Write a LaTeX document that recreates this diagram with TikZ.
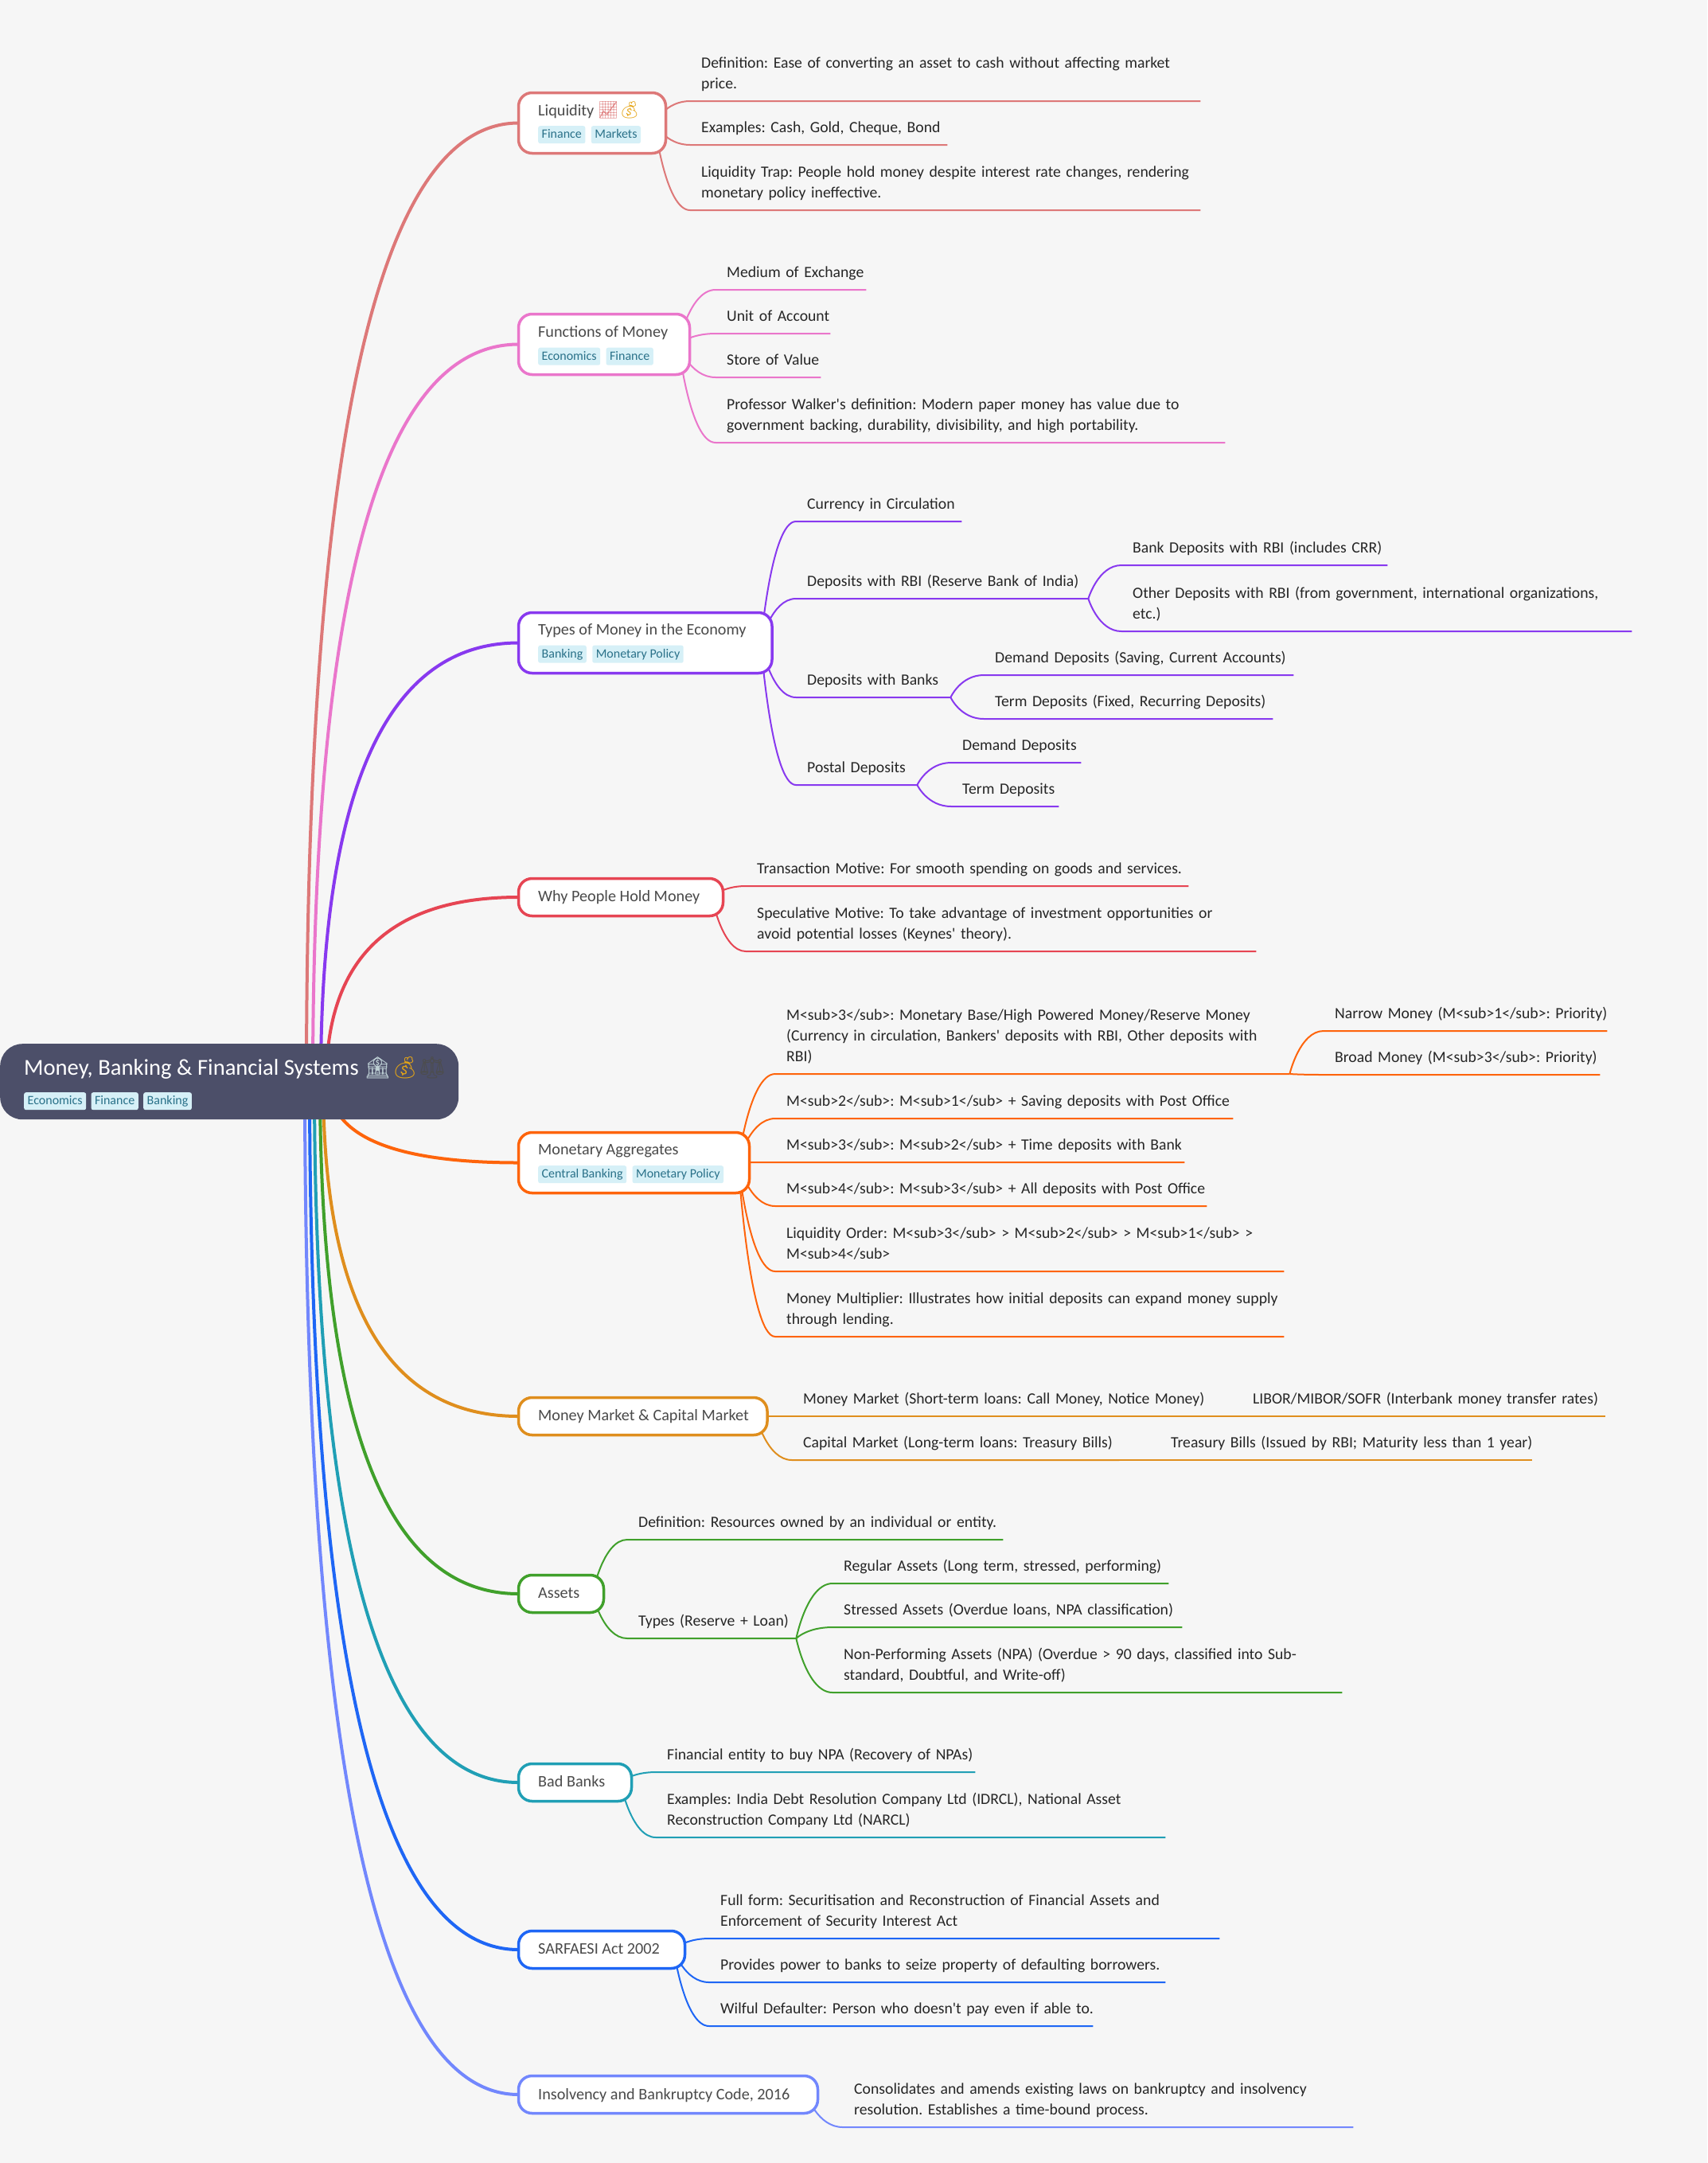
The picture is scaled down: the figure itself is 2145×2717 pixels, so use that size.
\documentclass[tikz,border=0pt]{standalone}
\usepackage{fontspec}
\setmainfont{Carlito}
\newfontfamily\emojifont{Noto Emoji}
\usepackage[HTML]{xcolor}
\usetikzlibrary{positioning, calc, backgrounds}

\definecolor{pagebg}{HTML}{F6F6F6}
\definecolor{rootbg}{HTML}{4C4F69}
\definecolor{tagbg}{HTML}{D6F0F7}
\definecolor{tagfg}{HTML}{2A7189}
\definecolor{leaffg}{HTML}{262626}
\definecolor{topicfg}{HTML}{4A4A4A}
\definecolor{liqcol}{HTML}{DD7878}
\definecolor{funcol}{HTML}{EA76CB}
\definecolor{typcol}{HTML}{8839EF}
\definecolor{whycol}{HTML}{E64553}
\definecolor{moncol}{HTML}{FE640B}
\definecolor{mktcol}{HTML}{DF8E1D}
\definecolor{astcol}{HTML}{40A02B}
\definecolor{badcol}{HTML}{209FB5}
\definecolor{sarcol}{HTML}{1E66F5}
\definecolor{inscol}{HTML}{7287FD}

\tikzset{
  leaf/.style={anchor=south west, inner xsep=0pt, inner ysep=7.5pt, align=left, text=leaffg,
    font=\fontsize{19.7}{26}\selectfont\frenchspacing,
    execute at begin node={\hyphenpenalty=10000 \rightskip=0pt plus 2em minus 40pt\relax},
    execute at end node={\strut}},
  topic/.style={draw, fill=white, rounded corners=17pt, line width=3.5pt, inner sep=0pt, outer sep=0pt, anchor=north west},
  title/.style={anchor=base west, inner sep=0pt, text=topicfg, font=\fontsize{20.2}{26}\selectfont\frenchspacing},
  tag/.style={fill=tagbg, text=tagfg, rounded corners=2.5pt, inner xsep=4.5pt, inner ysep=0pt,
    text height=12pt, text depth=3pt, minimum height=22pt, font=\fontsize{16}{18}\selectfont},
  mainlink/.style={line width=4pt, to path={let \p1=(\tikztostart), \p2=(\tikztotarget) in
    .. controls (\x1,{\y1+0.667*(\y2-\y1)}) and ({\x2+0.667*(\x1-\x2)},\y2) .. (\tikztotarget)}},
  sublink/.style={line width=2pt, to path={let \p1=(\tikztostart), \p2=(\tikztotarget) in
    .. controls (\p1) and ({\x1+0.3*(\x2-\x1)},\y2) .. (\tikztotarget)}},
}

\begin{document}
\begin{tikzpicture}[x=1pt, y=-1pt]
\useasboundingbox (0,0) rectangle (2145,2717);

% root
\node[fill=rootbg, rounded corners=28pt, inner sep=0pt, minimum width=576pt, minimum height=95pt, anchor=north west] (root) at (0,1311) {};
\node[anchor=base west, inner sep=0pt, text=white, font=\fontsize{28.6}{32}\selectfont\frenchspacing] (roott) at (30,1350.5)
  {Money, Banking \& Financial Systems {\emojifont\fontsize{27}{32}\selectfont\textcolor{tagbg!70!gray}{🏦}\textcolor{mktcol!80!yellow}{💰}\textcolor{black!70}{⚖}}};
\node[tag, anchor=north west] (roota) at (30,1372) {Economics};
\node[tag, right=6pt of roota] (rootb) {Finance};
\node[tag, right=6pt of rootb] (rootc) {Banking};

% topics
\node[topic, draw=liqcol, minimum width=185pt, minimum height=76pt] (liq) at (651.5,116.5) {};
\node[title] (liqt) at (676,145) {Liquidity {\emojifont\fontsize{21}{26}\selectfont\textcolor{liqcol}{📈}\textcolor{mktcol!80!yellow}{💰}}};
\node[tag, anchor=north west] (liqa) at (676,158) {Finance};
\node[tag, right=7pt of liqa] (liqb) {Markets};

\node[topic, draw=funcol, minimum width=215pt, minimum height=76pt] (fun) at (651.5,394.5) {};
\node[title] (funt) at (676,423) {Functions of Money};
\node[tag, anchor=north west] (funa) at (676,436.5) {Economics};
\node[tag, right=7pt of funa] (funb) {Finance};

\node[topic, draw=typcol, minimum width=318.5pt, minimum height=76pt] (typ) at (651.5,769.5) {};
\node[title] (typt) at (676,797) {Types of Money in the Economy};
\node[tag, anchor=north west] (typa) at (676,810.5) {Banking};
\node[tag, right=7pt of typa] (typb) {Monetary Policy};

\node[topic, draw=whycol, minimum width=257pt, minimum height=47pt] (why) at (651.5,1103.5) {};
\node[title] (whyt) at (676,1132.5) {Why People Hold Money};

\node[topic, draw=moncol, minimum width=290pt, minimum height=76pt] (mon) at (651.5,1422.5) {};
\node[title] (mont) at (676,1450) {Monetary Aggregates};
\node[tag, anchor=north west] (mona) at (676,1464) {Central Banking};
\node[tag, right=7pt of mona] (monb) {Monetary Policy};

\node[topic, draw=mktcol, minimum width=312.5pt, minimum height=47pt] (mkt) at (651.5,1755.5) {};
\node[title] (mktt) at (676,1784.5) {Money Market \& Capital Market};

\node[topic, draw=astcol, minimum width=107pt, minimum height=47pt] (ast) at (651.5,1978.5) {};
\node[title] (astt) at (676,2007.5) {Assets};

\node[topic, draw=badcol, minimum width=142pt, minimum height=47pt] (bad) at (651.5,2215.5) {};
\node[title] (badt) at (676,2244) {Bad Banks};

\node[topic, draw=sarcol, minimum width=209pt, minimum height=47pt] (sar) at (651.5,2425.5) {};
\node[title] (sart) at (676,2454) {SARFAESI Act 2002};

\node[topic, draw=inscol, minimum width=376pt, minimum height=47pt] (ins) at (651.5,2607.5) {};
\node[title] (inst) at (676,2637) {Insolvency and Bankruptcy Code, 2016};

% leaves
\node[leaf, text width=627pt] (liq1) at (881,127) {Definition: Ease of converting an asset to cash without affecting market\\price.};
\node[leaf, text width=309pt] (liq2) at (881,182) {Examples: Cash, Gold, Cheque, Bond};
\node[leaf, text width=627pt] (liq3) at (881,264) {Liquidity Trap: People hold money despite interest rate changes, rendering\\monetary policy ineffective.};

\node[leaf, text width=175pt] (fun1) at (913,364) {Medium of Exchange};
\node[leaf, text width=130pt] (fun2) at (913,419) {Unit of Account};
\node[leaf, text width=118pt] (fun3) at (913,474) {Store of Value};
\node[leaf, text width=626pt] (fun4) at (913,556) {Professor Walker\textquotesingle s definition: Modern paper money has value due to\\government backing, durability, divisibility, and high portability.};

\node[leaf, text width=194pt] (typ1) at (1014,655) {Currency in Circulation};
\node[leaf, text width=353pt] (typ2) at (1014,752) {Deposits with RBI (Reserve Bank of India)};
\node[leaf, text width=320pt] (typ21) at (1423,710) {Bank Deposits with RBI (includes CRR)};
\node[leaf, text width=627pt] (typ22) at (1423,793) {Other Deposits with RBI (from government, international organizations,\\etc.)};
\node[leaf, text width=180pt] (typ3) at (1014,876) {Deposits with Banks};
\node[leaf, text width=375pt] (typ31) at (1250,848) {Demand Deposits (Saving, Current Accounts)};
\node[leaf, text width=349pt] (typ32) at (1250,903) {Term Deposits (Fixed, Recurring Deposits)};
\node[leaf, text width=138pt] (typ4) at (1014,986) {Postal Deposits};
\node[leaf, text width=149pt] (typ41) at (1209,958) {Demand Deposits};
\node[leaf, text width=121pt] (typ42) at (1209,1013) {Term Deposits};

\node[leaf, text width=542pt] (why1) at (951,1113) {Transaction Motive: For smooth spending on goods and services.};
\node[leaf, text width=627pt] (why2) at (951,1195) {Speculative Motive: To take advantage of investment opportunities or\\avoid potential losses (Keynes\textquotesingle{} theory).};

\node[leaf, text width=632pt] (mon1) at (988,1349) {M<sub>3</sub>: Monetary Base/High Powered Money/Reserve Money\\(Currency in circulation, Bankers\textquotesingle{} deposits with RBI, Other deposits with\\RBI)};
\node[leaf, text width=342pt] (mon11) at (1677,1295) {Narrow Money (M<sub>1</sub>: Priority)};
\node[leaf, text width=333pt] (mon12) at (1677,1350) {Broad Money (M<sub>3</sub>: Priority)};
\node[leaf, text width=561pt] (mon2) at (988,1405) {M<sub>2</sub>: M<sub>1</sub> + Saving deposits with Post Office};
\node[leaf, text width=500pt] (mon3) at (988,1460) {M<sub>3</sub>: M<sub>2</sub> + Time deposits with Bank};
\node[leaf, text width=528pt] (mon4) at (988,1515) {M<sub>4</sub>: M<sub>3</sub> + All deposits with Post Office};
\node[leaf, text width=625pt] (mon5) at (988,1597) {Liquidity Order: M<sub>3</sub> > M<sub>2</sub> > M<sub>1</sub> >\\M<sub>4</sub>};
\node[leaf, text width=625pt] (mon6) at (988,1679) {Money Multiplier: Illustrates how initial deposits can expand money supply\\through lending.};

\node[leaf, text width=501pt] (mkt1) at (1009,1779) {Money Market (Short-term loans: Call Money, Notice Money)};
\node[leaf, text width=443pt] (mkt11) at (1574,1779) {LIBOR/MIBOR/SOFR (Interbank money transfer rates)};
\node[leaf, text width=397pt] (mkt2) at (1009,1834) {Capital Market (Long-term loans: Treasury Bills)};
\node[leaf, text width=454pt] (mkt21) at (1471,1834) {Treasury Bills (Issued by RBI; Maturity less than 1 year)};

\node[leaf, text width=458pt] (ast1) at (802,1934) {Definition: Resources owned by an individual or entity.};
\node[leaf, text width=198pt] (ast2) at (802,2058) {Types (Reserve + Loan)};
\node[leaf, text width=408pt] (ast21) at (1060,1989) {Regular Assets (Long term, stressed, performing)};
\node[leaf, text width=425pt] (ast22) at (1060,2044) {Stressed Assets (Overdue loans, NPA classification)};
\node[leaf, text width=626pt] (ast23) at (1060,2126) {Non-Performing Assets (NPA) (Overdue > 90 days, classified into Sub-\\standard, Doubtful, and Write-off)};

\node[leaf, text width=387pt] (bad1) at (838,2226) {Financial entity to buy NPA (Recovery of NPAs)};
\node[leaf, text width=626pt] (bad2) at (838,2308) {Examples: India Debt Resolution Company Ltd (IDRCL), National Asset\\Reconstruction Company Ltd (NARCL)};

\node[leaf, text width=627pt] (sar1) at (905,2435) {Full form: Securitisation and Reconstruction of Financial Assets and\\Enforcement of Security Interest Act};
\node[leaf, text width=559pt] (sar2) at (905,2490) {Provides power to banks to seize property of defaulting borrowers.};
\node[leaf, text width=468pt] (sar3) at (905,2545) {Wilful Defaulter: Person who doesn\textquotesingle t pay even if able to.};

\node[leaf, text width=627pt] (ins1) at (1073,2672) {Consolidates and amends existing laws on bankruptcy and insolvency\\resolution. Establishes a time-bound process.};

% link origins
\coordinate (o1) at (385,1358);
\coordinate (o2) at (393,1358);
\coordinate (o3) at (403,1358);
\coordinate (o4) at (410,1358);
\coordinate (o5) at (413,1358);
\coordinate (o6) at (406,1358);
\coordinate (o7) at (402,1358);
\coordinate (o8) at (395,1358);
\coordinate (o9) at (389,1358);
\coordinate (o10) at (383,1358);
\coordinate (liqo) at ([xshift=-14pt]liq.east);
\coordinate (funo) at ([xshift=-14pt]fun.east);
\coordinate (typo) at ([xshift=-14pt]typ.east);
\coordinate (whyo) at ([xshift=-14pt]why.east);
\coordinate (mono) at ([xshift=-14pt]mon.east);
\coordinate (mkto) at ([xshift=-14pt]mkt.east);
\coordinate (asto) at ([xshift=-14pt]ast.east);
\coordinate (bado) at ([xshift=-14pt]bad.east);
\coordinate (saro) at ([xshift=-14pt]sar.east);
\coordinate (inso) at ([xshift=-14pt]ins.east);

\begin{scope}[on background layer]
\fill[pagebg] (0,0) rectangle (2145,2717);

\draw[liqcol, mainlink] (o1) to (liq.west);
\draw[funcol, mainlink] (o2) to (fun.west);
\draw[typcol, mainlink] (o3) to (typ.west);
\draw[whycol, mainlink] (o4) to (why.west);
\draw[moncol, mainlink] (o5) to (mon.west);
\draw[mktcol, mainlink] (o6) to (mkt.west);
\draw[astcol, mainlink] (o7) to (ast.west);
\draw[badcol, mainlink] (o8) to (bad.west);
\draw[sarcol, mainlink] (o9) to (sar.west);
\draw[inscol, mainlink] (o10) to (ins.west);

\draw[liqcol, sublink] (liqo) to ([xshift=-14pt]liq1.south west) -- (liq1.south east);
\draw[liqcol, sublink] (liqo) to ([xshift=-14pt]liq2.south west) -- (liq2.south east);
\draw[liqcol, sublink] (liqo) to ([xshift=-14pt]liq3.south west) -- (liq3.south east);

\draw[funcol, sublink] (funo) to ([xshift=-14pt]fun1.south west) -- (fun1.south east);
\draw[funcol, sublink] (funo) to ([xshift=-14pt]fun2.south west) -- (fun2.south east);
\draw[funcol, sublink] (funo) to ([xshift=-14pt]fun3.south west) -- (fun3.south east);
\draw[funcol, sublink] (funo) to ([xshift=-14pt]fun4.south west) -- (fun4.south east);

\draw[typcol, sublink] (typo) to ([xshift=-14pt]typ1.south west) -- (typ1.south east);
\draw[typcol, sublink] (typo) to ([xshift=-14pt]typ2.south west) -- (typ2.south east);
\draw[typcol, sublink] (typo) to ([xshift=-14pt]typ3.south west) -- (typ3.south east);
\draw[typcol, sublink] (typo) to ([xshift=-14pt]typ4.south west) -- (typ4.south east);
\draw[typcol, sublink] (typ2.south east) to ([xshift=-14pt]typ21.south west) -- (typ21.south east);
\draw[typcol, sublink] (typ2.south east) to ([xshift=-14pt]typ22.south west) -- (typ22.south east);
\draw[typcol, sublink] (typ3.south east) to ([xshift=-14pt]typ31.south west) -- (typ31.south east);
\draw[typcol, sublink] (typ3.south east) to ([xshift=-14pt]typ32.south west) -- (typ32.south east);
\draw[typcol, sublink] (typ4.south east) to ([xshift=-14pt]typ41.south west) -- (typ41.south east);
\draw[typcol, sublink] (typ4.south east) to ([xshift=-14pt]typ42.south west) -- (typ42.south east);

\draw[whycol, sublink] (whyo) to ([xshift=-14pt]why1.south west) -- (why1.south east);
\draw[whycol, sublink] (whyo) to ([xshift=-14pt]why2.south west) -- (why2.south east);

\draw[moncol, sublink] (mono) to ([xshift=-14pt]mon1.south west) -- (mon1.south east);
\draw[moncol, sublink] (mono) to ([xshift=-14pt]mon2.south west) -- (mon2.south east);
\draw[moncol, sublink] (mono) to ([xshift=-14pt]mon3.south west) -- (mon3.south east);
\draw[moncol, sublink] (mono) to ([xshift=-14pt]mon4.south west) -- (mon4.south east);
\draw[moncol, sublink] (mono) to ([xshift=-14pt]mon5.south west) -- (mon5.south east);
\draw[moncol, sublink] (mono) to ([xshift=-14pt]mon6.south west) -- (mon6.south east);
\draw[moncol, sublink] (mon1.south east) to ([xshift=-14pt]mon11.south west) -- (mon11.south east);
\draw[moncol, sublink] (mon1.south east) to ([xshift=-14pt]mon12.south west) -- (mon12.south east);

\draw[mktcol, sublink] (mkto) to ([xshift=-14pt]mkt1.south west) -- (mkt1.south east);
\draw[mktcol, sublink] (mkto) to ([xshift=-14pt]mkt2.south west) -- (mkt2.south east);
\draw[mktcol, sublink] (mkt1.south east) to ([xshift=-14pt]mkt11.south west) -- (mkt11.south east);
\draw[mktcol, sublink] (mkt2.south east) to ([xshift=-14pt]mkt21.south west) -- (mkt21.south east);

\draw[astcol, sublink] (asto) to ([xshift=-14pt]ast1.south west) -- (ast1.south east);
\draw[astcol, sublink] (asto) to ([xshift=-14pt]ast2.south west) -- (ast2.south east);
\draw[astcol, sublink] (ast2.south east) to ([xshift=-14pt]ast21.south west) -- (ast21.south east);
\draw[astcol, sublink] (ast2.south east) to ([xshift=-14pt]ast22.south west) -- (ast22.south east);
\draw[astcol, sublink] (ast2.south east) to ([xshift=-14pt]ast23.south west) -- (ast23.south east);

\draw[badcol, sublink] (bado) to ([xshift=-14pt]bad1.south west) -- (bad1.south east);
\draw[badcol, sublink] (bado) to ([xshift=-14pt]bad2.south west) -- (bad2.south east);

\draw[sarcol, sublink] (saro) to ([xshift=-14pt]sar1.south west) -- (sar1.south east);
\draw[sarcol, sublink] (saro) to ([xshift=-14pt]sar2.south west) -- (sar2.south east);
\draw[sarcol, sublink] (saro) to ([xshift=-14pt]sar3.south west) -- (sar3.south east);

\draw[inscol, sublink] (inso) to ([xshift=-14pt]ins1.south west) -- (ins1.south east);
\end{scope}
\end{tikzpicture}
\end{document}
